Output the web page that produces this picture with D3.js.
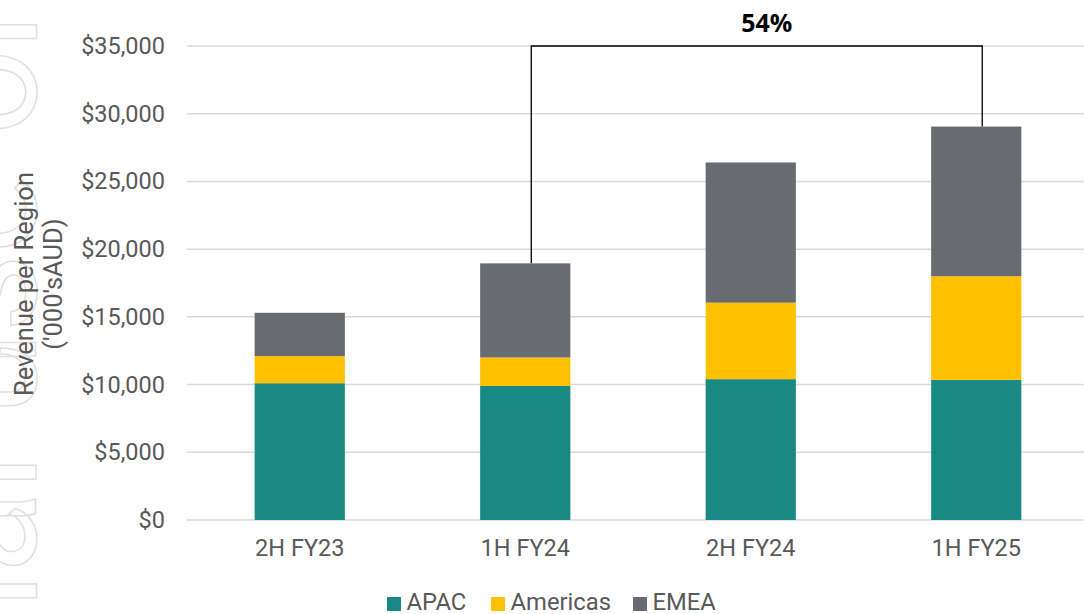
<!DOCTYPE html>
<html>
<head>
<meta charset="utf-8">
<script src="https://cdn.jsdelivr.net/npm/d3@7"></script>
<style>
  body { margin: 0; background: #fff; }
  svg { display: block; }
</style>
</head>
<body>
<div id="chart"></div>
<script>
// chart values ('000s AUD)
var periods = ["2H FY23", "1H FY24", "2H FY24", "1H FY25"];
var regions = ["APAC", "Americas", "EMEA"];
var apac     = [10100, 9900, 10400, 10350];
var americas = [2000, 2100, 5650, 7650];
var emea     = [3200, 6950, 10350, 11050];
var yTicks = [0, 5000, 10000, 15000, 20000, 25000, 30000, 35000];
var growthLabel = "54%";
var growthFrom = "1H FY24", growthTo = "1H FY25";

var width = 1084, height = 614;
var colours = {"APAC": "#188a83", "Americas": "#ffc000", "EMEA": "#686b71"};
var labelFont = 23.5;

var rows = periods.map(function(p, i){
  return {"period": p, "APAC": apac[i], "Americas": americas[i], "EMEA": emea[i]};
});

var svg = d3.select("#chart").append("svg")
    .attr("width", width)
    .attr("height", height);

// faint outlined watermark down the left edge
svg.append("text")
    .attr("transform", "translate(36,1040) rotate(-90)")
    .attr("font-family", "Roboto")
    .attr("font-size", 152)
    .attr("fill", "none")
    .attr("stroke", "#e0e0e0")
    .attr("stroke-width", 1.5)
    .text("personal use only");

var x = d3.scaleBand()
    .domain(periods)
    .range([187, 1089])
    .paddingInner(0.6)
    .paddingOuter(0.3);

var y = d3.scaleLinear()
    .domain([0, 35000])
    .range([520, 46]);

// gridlines
svg.append("g").selectAll("line")
    .data(yTicks)
    .enter().append("line")
    .attr("x1", 187).attr("x2", width)
    .attr("y1", function(d){ return y(d); })
    .attr("y2", function(d){ return y(d); })
    .attr("stroke", "#d9d9d9")
    .attr("stroke-width", 1.5);

// y axis labels
var yAxis = d3.axisLeft(y)
    .tickValues(yTicks)
    .tickSize(0)
    .tickPadding(0)
    .tickFormat(function(d){ return "$" + d3.format(",")(d); });

svg.append("g")
    .attr("transform", "translate(165,0)")
    .call(yAxis)
    .call(function(g){ g.select(".domain").remove(); })
    .selectAll("text")
    .attr("font-family", "Roboto")
    .attr("font-size", labelFont)
    .attr("fill", "#595959");

// category labels
var xAxis = d3.axisBottom(x).tickSize(0).tickPadding(0);
svg.append("g")
    .attr("transform", "translate(0,539)")
    .call(xAxis)
    .call(function(g){ g.select(".domain").remove(); })
    .selectAll("text")
    .attr("font-family", "Roboto")
    .attr("font-size", labelFont)
    .attr("fill", "#595959");

// stacked bars
var stack = d3.stack().keys(regions);
var layers = svg.append("g").selectAll("g")
    .data(stack(rows))
    .enter().append("g")
    .attr("fill", function(d){ return colours[d.key]; });

layers.selectAll("rect")
    .data(function(d){ return d; })
    .enter().append("rect")
    .attr("x", function(d){ return x(d.data.period); })
    .attr("width", x.bandwidth())
    .attr("y", function(d){ return y(d[1]); })
    .attr("height", function(d){ return y(d[0]) - y(d[1]); });

// growth bracket between two bar tops
var totals = rows.map(function(r){ return r.APAC + r.Americas + r.EMEA; });
var iFrom = periods.indexOf(growthFrom), iTo = periods.indexOf(growthTo);
var bx1 = x(growthFrom) + x.bandwidth()/2 + 6;
var bx2 = x(growthTo) + x.bandwidth()/2 + 6;
svg.append("path")
    .attr("d", "M" + bx1 + "," + y(totals[iFrom]) +
               "V" + y(35000) + "H" + bx2 + "V" + y(totals[iTo]))
    .attr("fill", "none")
    .attr("stroke", "#000")
    .attr("stroke-width", 1.3);

svg.append("text")
    .attr("x", (bx1 + bx2)/2 + 10)
    .attr("y", 32)
    .attr("text-anchor", "middle")
    .attr("font-family", "Open Sans")
    .attr("font-weight", "bold")
    .attr("font-size", 25)
    .attr("fill", "#000")
    .text(growthLabel);

// y axis title
var title = svg.append("text")
    .attr("transform", "translate(38,284) rotate(-90)")
    .attr("text-anchor", "middle")
    .attr("font-family", "Roboto")
    .attr("font-size", 25.5)
    .attr("fill", "#595959");
title.append("tspan").attr("x", 0).attr("dy", "-0.2em").text("Revenue per Region");
title.append("tspan").attr("x", 0).attr("dy", "1.15em").text("('000'sAUD)");

// legend
var legendX = [387, 491, 633];
var legend = svg.append("g").selectAll("g")
    .data(regions)
    .enter().append("g")
    .attr("transform", function(d, i){ return "translate(" + legendX[i] + ",596)"; });

legend.append("rect")
    .attr("y", 1)
    .attr("width", 14).attr("height", 14)
    .attr("fill", function(d){ return colours[d]; });

legend.append("text")
    .attr("x", 19.5).attr("y", 14)
    .attr("font-family", "Roboto")
    .attr("font-size", 23.8)
    .attr("fill", "#595959")
    .text(function(d){ return d; });
</script>
</body>
</html>
